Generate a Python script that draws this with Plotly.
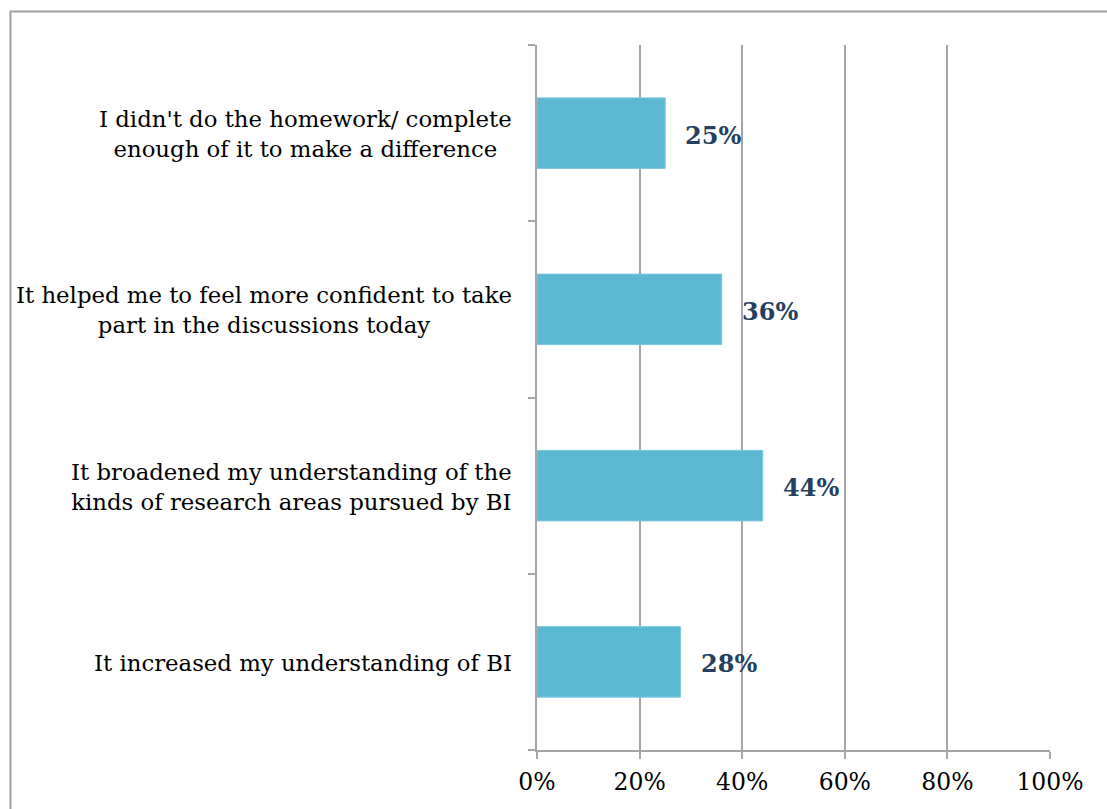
import plotly.graph_objects as go

# Survey responses, listed bottom to top
categories = [
    "It increased my understanding of BI",
    "It broadened my understanding of the<br>kinds of research areas pursued by BI",
    "It helped me to feel more confident to take<br>part in the discussions today",
    "I didn't do the homework/ complete<br>enough of it to make a difference",
]
values = [0.28, 0.44, 0.36, 0.25]
value_labels = ["28%", "44%", "36%", "25%"]
x_ticks = [0, 0.2, 0.4, 0.6, 0.8, 1.0]
x_tick_labels = ["0%", "20%", "40%", "60%", "80%", "100%"]

W, H = 1107, 809
ML, MR, MT, MB = 537, 57, 45, 59
PW, PH = W - ML - MR, H - MT - MB

SERIF = "DejaVu Serif, Liberation Serif, serif"
GRID = "#A6A6A6"

fig = go.Figure(
    go.Bar(
        x=values,
        y=categories,
        orientation="h",
        width=0.4,
        marker=dict(color="#5BB8D2", line=dict(color="#7CC6DC", width=1)),
        hoverinfo="skip",
    )
)

# value labels to the right of each bar
for c, v, t in zip(categories, values, value_labels):
    fig.add_annotation(
        x=v, y=c, text=f"<b>{t}</b>", showarrow=False,
        xanchor="left", yanchor="middle", xshift=18, yshift=-2,
        font=dict(family=SERIF, size=24, color="#243F60"),
    )

# category labels, centred lines in a right-aligned block
for c in categories:
    fig.add_annotation(
        x=0, xref="paper", y=c, text=c, showarrow=False,
        xanchor="right", yanchor="middle", align="center", xshift=-23, yshift=-1,
        font=dict(family=SERIF, size=22.8, color="#000000"),
    )

# outer chart border
fig.add_shape(
    type="rect", xref="paper", yref="paper",
    x0=(10.5 - ML) / PW, x1=(W + 20 - ML) / PW,
    y0=-(MB + 20) / PH, y1=(H - MB - 11.5) / PH,
    line=dict(color="#A0A0A0", width=2), fillcolor="rgba(0,0,0,0)", layer="below",
)

fig.update_layout(
    width=W, height=H,
    margin=dict(l=ML, r=MR, t=MT, b=MB, pad=0),
    paper_bgcolor="white", plot_bgcolor="white",
    showlegend=False,
    font=dict(family=SERIF, color="#000000"),
    xaxis=dict(
        range=[0, 1], tickvals=x_ticks, ticktext=x_tick_labels,
        showgrid=True, gridcolor=GRID, gridwidth=2,
        showline=True, linecolor=GRID, linewidth=2,
        ticks="outside", ticklen=7, tickwidth=2, tickcolor=GRID,
        ticklabelstandoff=3,
        tickfont=dict(family=SERIF, size=23.5, color="#000000"),
        zeroline=False, fixedrange=True,
    ),
    yaxis=dict(
        categoryorder="array", categoryarray=categories,
        range=[-0.5, 3.5], showticklabels=False,
        tickson="boundaries", ticks="outside", ticklen=7, tickwidth=2, tickcolor=GRID,
        showline=True, linecolor=GRID, linewidth=2,
        showgrid=False, zeroline=False, fixedrange=True,
    ),
)

fig.write_html("out.html")
